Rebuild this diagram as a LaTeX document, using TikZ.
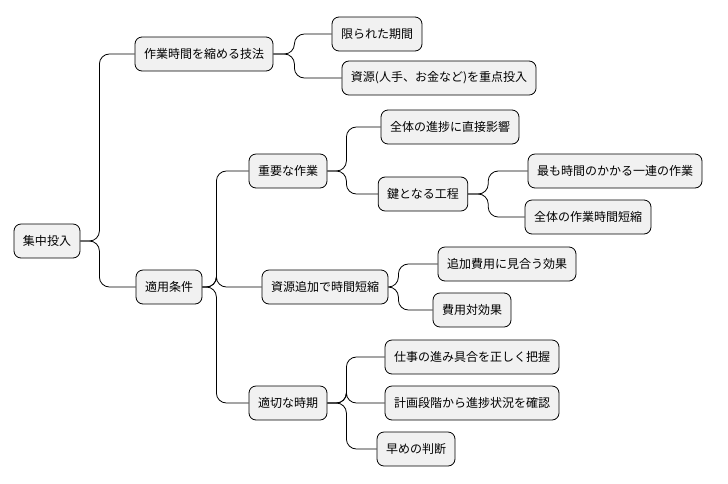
\documentclass[tikz,border=0pt]{standalone}
\usepackage{fontspec}
\setmainfont{Noto Sans CJK JP}
\usetikzlibrary{positioning}
\definecolor{boxfill}{HTML}{F1F1F1}
\begin{document}
\begin{tikzpicture}[
		x=1pt, y=-1pt,
		topic/.style={draw, thick, rounded corners=7pt, fill=boxfill, minimum height=34pt, inner xsep=9pt, font=\fontsize{12}{14}\selectfont},
		conn/.style={thick, rounded corners=10pt},
	]
	\useasboundingbox (0,0) rectangle (728,483);
	\node (root) [topic] at (47,241) {集中投入};
	\node (tech) [topic] at (204,54) {作業時間を縮める技法};
	\node (cond) [topic] at (169,287) {適用条件};
	\node (lim) [topic] at (377,34) {限られた期間};
	\node (res) [topic] at (439,78) {資源(人手、お金など)を重点投入};
	\node (imp) [topic] at (288,171) {重要な作業};
	\node (add) [topic] at (325,287) {資源追加で時間短縮};
	\node (time) [topic] at (288,403) {適切な時期};
	\node (prog) [topic] at (450,127) {全体の進捗に直接影響};
	\node (key) [topic] at (423,194) {鍵となる工程};
	\node (long) [topic] at (615,171) {最も時間のかかる一連の作業};
	\node (cut) [topic] at (588,217) {全体の作業時間短縮};
	\node (eff) [topic] at (507,264) {追加費用に見合う効果};
	\node (cost) [topic] at (472,310) {費用対効果};
	\node (grasp) [topic] at (472,357) {仕事の進み具合を正しく把握};
	\node (plan) [topic] at (472,403) {計画段階から進捗状況を確認};
	\node (early) [topic] at (416,449) {早めの判断};

	\foreach \p/\c/\d in {root/tech/19, root/cond/19, tech/lim/21, tech/res/21,
			cond/imp/14, cond/add/14, cond/time/14, imp/prog/19, imp/key/19,
			key/long/20, key/cut/20, add/eff/10, add/cost/10,
			time/grasp/19, time/plan/19, time/early/19}
		\draw[conn] (\p.east) -- ++(\d,0) |- (\c.west);
\end{tikzpicture}
\end{document}
